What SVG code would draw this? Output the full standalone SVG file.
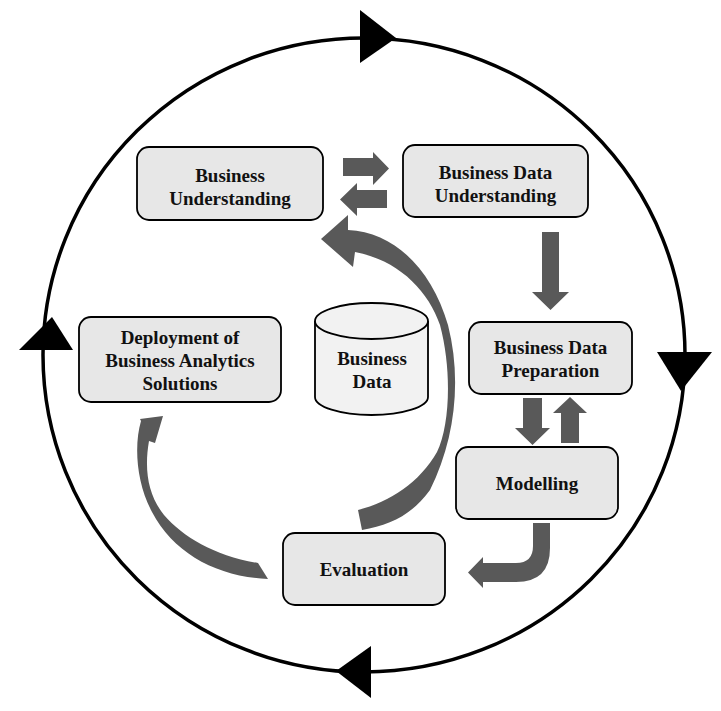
<svg xmlns="http://www.w3.org/2000/svg" width="721" height="711" viewBox="0 0 721 711">
<style>
.box{fill:#e7e7e7;stroke:#000;stroke-width:1.8}
.lbl{font-family:"Liberation Serif","Times New Roman",serif;font-weight:bold;font-size:19px;fill:#111;text-anchor:middle}
.arr{fill:#595959;stroke:none}
.cyc{fill:none;stroke:#000;stroke-width:3.5}
.tri{fill:#000}
</style>
<rect width="721" height="711" fill="#fff"/>
<g id="cycle">
<ellipse class="cyc" cx="364" cy="355" rx="321" ry="317"/>
<polygon class="tri" points="360,10 360,63 396,38"/>
<polygon class="tri" points="19,350 73,350 52,317"/>
<polygon class="tri" points="657,352 712,352 681,391"/>
<polygon class="tri" points="371,646 371,698 336,671"/>
</g>
<g id="connectors">
<path class="arr" d="M343,158 H373 V152 L389,168.5 L373,185 V176 H343 Z"/>
<path class="arr" d="M387,190 H357 V183 L340,199.5 L357,216 V208 H387 Z"/>
<path class="arr" d="M542,232 H559 V292 H569 L550.5,310 L532,292 H542 Z"/>
<path class="arr" d="M523,398 H542 V428 H550 L532.5,445 L515,428 H523 Z"/>
<path class="arr" d="M561,443 H579 V413 H587 L570,397 L553,413 H561 Z"/>
<path class="arr" d="M533,523 H550 V548 Q550,582 516,582 H483 V588 L468,572.5 L483,557 V563 H516 Q533,563 533,546 Z"/>
<path class="arr" d="M348,230 C395,232 432,270 448,325 C462,380 455,440 430,490 C412,515 390,525 362,530 L358,510 C390,502 420,482 437,452 C450,425 452,370 440,325 C428,290 398,260 355,252 L353,267 L321,239 L348,215 Z"/>
<path class="arr" d="M140,419 L163,416 L155,443 L149,441 C144,470 148,495 164,515 C183,537 215,556 258,563 L268,579 C218,577 174,554 152,512 C136,482 134,445 141,421 Z"/>
</g>
<g id="business-understanding">
<rect class="box" x="137" y="147" width="186" height="73" rx="12"/>
<text class="lbl" x="230" y="181.5">Business</text>
<text class="lbl" x="230" y="205">Understanding</text>
</g>
<g id="business-data-understanding">
<rect class="box" x="403" y="145" width="185" height="72" rx="12"/>
<text class="lbl" x="495.5" y="178.5">Business Data</text>
<text class="lbl" x="495.5" y="202">Understanding</text>
</g>
<g id="business-data-preparation">
<rect class="box" x="469" y="322" width="163" height="72" rx="12"/>
<text class="lbl" x="550.5" y="354">Business Data</text>
<text class="lbl" x="550.5" y="377">Preparation</text>
</g>
<g id="modelling">
<rect class="box" x="456" y="447" width="162" height="72" rx="12"/>
<text class="lbl" x="537" y="490">Modelling</text>
</g>
<g id="evaluation">
<rect class="box" x="283" y="533" width="162" height="72" rx="12"/>
<text class="lbl" x="364" y="576">Evaluation</text>
</g>
<g id="deployment">
<rect class="box" x="79" y="317" width="202" height="85" rx="12"/>
<text class="lbl" x="180" y="344">Deployment of</text>
<text class="lbl" x="180" y="367">Business Analytics</text>
<text class="lbl" x="180" y="390">Solutions</text>
</g>
<g id="business-data">
<path d="M315,321 V397 A56.5,18 0 0 0 428,397 V321" fill="#f2f2f2" stroke="#000" stroke-width="1.8"/>
<ellipse cx="371.5" cy="321" rx="56.5" ry="18" fill="#f2f2f2" stroke="#000" stroke-width="1.8"/>
<text class="lbl" x="372" y="365">Business</text>
<text class="lbl" x="372" y="388">Data</text>
</g>
</svg>
